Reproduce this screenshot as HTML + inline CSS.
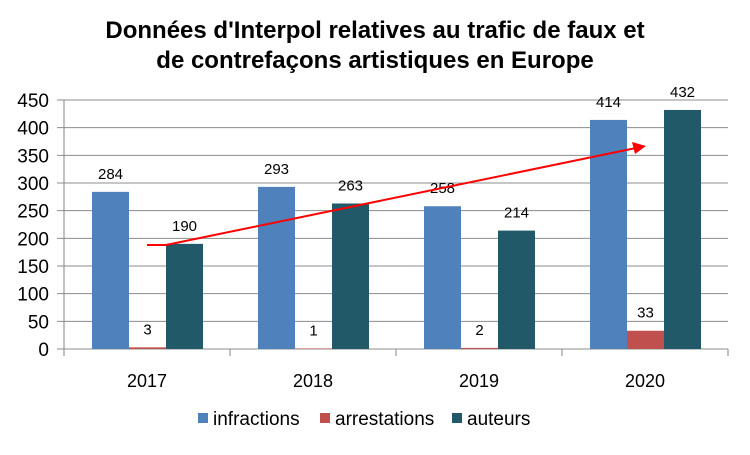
<!DOCTYPE html>
<html><head><meta charset="utf-8"><style>
body{margin:0;background:#fff;font-family:"Liberation Sans",sans-serif}
</style></head><body>
<svg id="c" width="750" height="450" xmlns="http://www.w3.org/2000/svg">
<text x="375" y="38" text-anchor="middle" font-size="24" font-weight="bold">Données d'Interpol relatives au trafic de faux et</text>
<text x="375" y="68" text-anchor="middle" font-size="24" font-weight="bold">de contrefaçons artistiques en Europe</text>
<g id="g"></g>
</svg>
<script>
const categories=["2017","2018","2019","2020"];
const infractions=[284,293,258,414];
const arrestations=[3,1,2,33];
const auteurs=[190,263,214,432];
const yTicks=[0,50,100,150,200,250,300,350,400,450];
const seriesNames=["infractions","arrestations","auteurs"];
const colors=["#4F81BD","#C0504D","#215968"];
const NS="http://www.w3.org/2000/svg";
const g=document.getElementById('g');
const x0=64,cw=166,y0=349,yTop=100,ymax=450;
const y=v=>y0-(v/ymax)*(y0-yTop);
function mk(t,a,txt){const e=document.createElementNS(NS,t);for(const k in a)e.setAttribute(k,a[k]);if(txt!==undefined)e.textContent=txt;g.appendChild(e);return e;}
yTicks.forEach(v=>{
 const l=mk('line',{x1:57,x2:x0+4*cw,y1:y(v),y2:y(v),stroke:'#8c8c8c','stroke-width':1});
 
 
 const t=mk('text',{x:49,y:y(v)+7,'text-anchor':'end','font-size':19},v);
 
 
});
const ax=mk('line',{x1:x0,x2:x0,y1:yTop,y2:y0,stroke:'#868686'});


for(let i=0;i<=categories.length;i++){
 const t=mk('line',{x1:x0+i*cw,x2:x0+i*cw,y1:y0,y2:y0+7,stroke:'#868686'});
 
 
}
const series=[infractions,arrestations,auteurs];
categories.forEach((c,i)=>{
 const t=mk('text',{x:x0+i*cw+cw/2,y:387,'text-anchor':'middle','font-size':18},c);
 
 
 series.forEach((s,j)=>{
  const bx=x0+i*cw+28+j*37;
  const r=mk('rect',{x:bx,y:y(s[i]),width:37,height:y0-y(s[i]),fill:colors[j]});
  
  
  const lb=mk('text',{x:bx+18.5,y:y(s[i])-13,'text-anchor':'middle','font-size':15},s[i]);
  
  
 });
});
const ar=mk('polyline',{points:'147,245 166,245 636,148',fill:'none',stroke:'#ff0000','stroke-width':2});


const ah=mk('polygon',{points:'646,146 632,142 635,154',fill:'#ff0000'});


const lx=[198,320,452];
seriesNames.forEach((n,j)=>{
 const r=mk('rect',{x:lx[j],y:413,width:10,height:10,fill:colors[j]});
 
 
 const t=mk('text',{x:lx[j]+15,y:425,'font-size':19},n);
 
 
});
</script>
</body></html>
